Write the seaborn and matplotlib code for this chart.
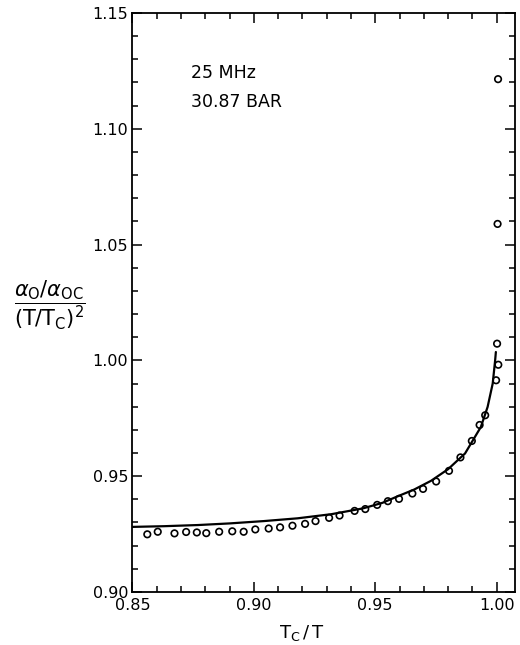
import numpy as np
import pandas as pd
import matplotlib
matplotlib.use("Agg")
import matplotlib.pyplot as plt
from matplotlib.ticker import MultipleLocator, FormatStrFormatter
import seaborn as sns

# measured points (open circles)
tc_over_t = [0.8561, 0.8604, 0.8673, 0.8721, 0.8765, 0.8804, 0.8857, 0.8911,
             0.8958, 0.9006, 0.9061, 0.9108, 0.9159, 0.9211, 0.9254, 0.9310,
             0.9353, 0.9415, 0.9459, 0.9508, 0.9552, 0.9598, 0.9653, 0.9697,
             0.9751, 0.9804, 0.9851, 0.9898, 0.9930, 0.9953, 0.9998, 1.0007,
             1.0002, 1.0004, 1.0006]
alpha_ratio = [0.9249, 0.9260, 0.9253, 0.9259, 0.9257, 0.9254, 0.9260, 0.9262,
               0.9260, 0.9270, 0.9274, 0.9279, 0.9286, 0.9294, 0.9306, 0.9320,
               0.9330, 0.9350, 0.9358, 0.9376, 0.9392, 0.9402, 0.9425, 0.9445,
               0.9477, 0.9523, 0.9581, 0.9652, 0.9721, 0.9763, 0.9914, 0.9981,
               1.0072, 1.0589, 1.1214]

# theory curve
curve_x = [0.850, 0.863, 0.877, 0.890, 0.904, 0.918, 0.932, 0.945, 0.953,
           0.959, 0.966, 0.973, 0.980, 0.987, 0.9935, 0.9963, 0.9984, 0.9994,
           0.9997]
curve_y = [0.9281, 0.9284, 0.9289, 0.9296, 0.9306, 0.9318, 0.9336, 0.9361,
           0.9385, 0.9412, 0.9442, 0.9480, 0.9530, 0.9598, 0.9712, 0.9799,
           0.9900, 1.0000, 1.0036]

pts = pd.DataFrame({"x": tc_over_t, "y": alpha_ratio})
curve = pd.DataFrame({"x": curve_x, "y": curve_y})

sns.set_style("ticks")
plt.rcParams["font.family"] = ["DejaVu Sans"]
plt.rcParams["mathtext.fontset"] = "dejavusans"
plt.rcParams["text.color"] = "black"
plt.rcParams["xtick.color"] = "black"
plt.rcParams["ytick.color"] = "black"
plt.rcParams["xtick.labelcolor"] = "black"
plt.rcParams["ytick.labelcolor"] = "black"

fig = plt.figure(figsize=(5.2, 6.45), dpi=100)
ax = fig.add_axes([0.2548, 0.0822, 0.990 - 0.2548, 0.980 - 0.0822])

sns.lineplot(data=curve, x="x", y="y", ax=ax, color="black", lw=1.6,
             sort=False, estimator=None)
sns.scatterplot(data=pts, x="x", y="y", ax=ax, marker="o", s=22,
                facecolor="none", edgecolor="black", linewidth=1.2)

ax.set_xlim(0.85, 1.0075)
ax.set_ylim(0.90, 1.15)
ax.xaxis.set_major_locator(MultipleLocator(0.05))
ax.xaxis.set_minor_locator(MultipleLocator(0.01))
ax.yaxis.set_major_locator(MultipleLocator(0.05))
ax.yaxis.set_minor_locator(MultipleLocator(0.01))
ax.xaxis.set_major_formatter(FormatStrFormatter("%.2f"))
ax.yaxis.set_major_formatter(FormatStrFormatter("%.2f"))
ax.tick_params(which="both", direction="in", top=True, right=True,
               width=1.1, labelsize=11.5, color="black", labelcolor="black")
ax.tick_params(which="major", length=7, pad=4)
ax.tick_params(which="minor", length=4.5)
ax.tick_params(axis="y", pad=3)
for sp in ax.spines.values():
    sp.set_linewidth(1.3)
    sp.set_color("black")
ax.set_xlabel("")
ax.set_ylabel("")

ax.text(0.874, 1.124, "25 MHz", fontsize=12.5, va="center", ha="left",
        color="black")
ax.text(0.874, 1.1115, "30.87 BAR", fontsize=12.5, va="center", ha="left",
        color="black")

fig.text(302 / 520, 1 - 633 / 645, r"$\mathrm{T_C\,/\,T}$", fontsize=13,
         ha="center", va="center", color="black")
fig.text(50 / 520, 1 - 305 / 645,
         r"$\dfrac{\alpha_{\mathrm{O}}/\alpha_{\mathrm{OC}}}{(\mathrm{T/T_C})^2}$",
         fontsize=15, ha="center", va="center", color="black")

fig.savefig("out.png", dpi=100)
